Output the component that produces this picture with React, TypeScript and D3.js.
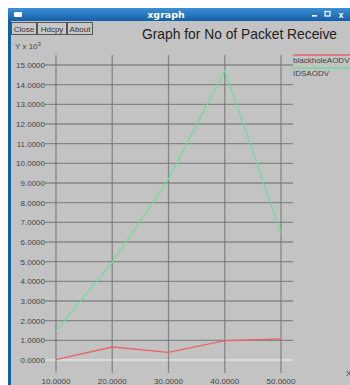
import React from "react";
import * as d3 from "d3";

const xValues = [10, 20, 30, 40, 50];
const blackholeAODV = [0.02, 0.66, 0.39, 0.98, 1.07];
const idsAODV = [1.47, 4.98, 9.2, 14.72, 6.45];
const yTicks = d3.range(0, 16, 1);
const xTicks = [10, 20, 30, 40, 50];
const seriesNames = ["blackholeAODV", "IDSAODV"];
const seriesColors = ["#e8646a", "#6fdc9c"];

const W = 350;
const H = 385;

export default function App() {
  const x = d3.scaleLinear().domain([10, 50]).range([56, 281]);
  const y = d3.scaleLinear().domain([0, 15]).range([360, 65]);
  const line = d3
    .line<number>()
    .x((_, i) => x(xValues[i]))
    .y((d) => y(d));
  const series = [blackholeAODV, idsAODV];
  const font = "'Liberation Sans', Arial, sans-serif";
  const fmt = (v: number) => v.toFixed(4);

  return (
    <svg
      width={W}
      height={H}
      style={{ position: "absolute", left: 0, top: 0 }}
      fontFamily={font}
    >
      <defs>
        <linearGradient id="titlebar" x1="0" y1="0" x2="0" y2="1">
          <stop offset="0" stopColor="#3d8fd6" />
          <stop offset="1" stopColor="#135fa8" />
        </linearGradient>
      </defs>
      <rect x={0} y={0} width={W} height={H} fill="#ffffff" />
      {/* window frame */}
      <rect x={8} y={8} width={W - 8} height={H - 8} fill="#14609f" />
      <rect x={8} y={8} width={W - 8} height={13} fill="url(#titlebar)" />
      <rect x={11} y={21} width={W - 11} height={H - 21} fill="#c3c3c3" />
      <rect x={14} y={12} width={8} height={5} fill="#ffffff" rx={1} />
      <text
        x={166}
        y={18}
        fill="#ffffff"
        fontSize={9.5}
        fontWeight="bold"
        textAnchor="middle"
        fontFamily="'DejaVu Sans', sans-serif"
      >
        xgraph
      </text>
      <rect x={312} y={15} width={5} height={1.6} fill="#ffffff" />
      <rect x={325} y={11.5} width={5} height={4.5} fill="none" stroke="#ffffff" strokeWidth={1.2} />
      <text x={341} y={18} fill="#ffffff" fontSize={9} fontWeight="bold" textAnchor="middle">
        x
      </text>

      {/* buttons */}
      {[
        { label: "Close", x0: 11, w: 25 },
        { label: "Hdcpy", x0: 37, w: 29 },
        { label: "About", x0: 67, w: 25 },
      ].map((b) => (
        <g key={b.label}>
          <rect
            x={b.x0 + 0.5}
            y={22.5}
            width={b.w}
            height={12}
            fill="#c8c8c8"
            stroke="#555"
            strokeWidth={1}
          />
          <text x={b.x0 + 0.5 + b.w / 2} y={32} fontSize={8} fill="#333" textAnchor="middle">
            {b.label}
          </text>
        </g>
      ))}

      <text x={142} y={39} fontSize={14.5} fill="#222" textLength={195} lengthAdjust="spacingAndGlyphs">
        Graph for No of Packet Receive
      </text>
      <text x={15} y={49} fontSize={8} fill="#444">
        Y x 10
        <tspan dy={-3} fontSize={6}>
          3
        </tspan>
      </text>

      {/* grid */}
      {yTicks.map((t) => (
        <g key={"y" + t}>
          <line
            x1={45}
            x2={293}
            y1={y(t)}
            y2={y(t)}
            stroke={t === 0 ? "#e4e4e4" : "#7a7a7a"}
            strokeWidth={1.3}
            strokeOpacity={t === 0 ? 1 : 0.85}
          />
          <text x={45} y={y(t) + 3} fontSize={8} fill="#444" textAnchor="end">
            {fmt(t)}
          </text>
        </g>
      ))}
      {xTicks.map((t) => (
        <g key={"x" + t}>
          <line
            x1={x(t)}
            x2={x(t)}
            y1={55}
            y2={373}
            stroke="#7a7a7a"
            strokeWidth={1.3}
            strokeOpacity={0.85}
          />
          <text x={x(t)} y={384} fontSize={8} fill="#444" textAnchor="middle">
            {fmt(t)}
          </text>
        </g>
      ))}
      <text x={346} y={376} fontSize={8} fill="#444">
        X
      </text>

      {/* series */}
      {series.map((s, i) => (
        <path
          key={seriesNames[i]}
          d={line(s) ?? ""}
          fill="none"
          stroke={seriesColors[i]}
          strokeWidth={1.3}
        />
      ))}

      {/* legend */}
      {seriesNames.map((n, i) => (
        <g key={"lg" + n}>
          <line x1={293} x2={350} y1={55 + i * 13} y2={55 + i * 13} stroke={seriesColors[i]} strokeWidth={1.3} />
          <text x={293} y={63 + i * 13} fontSize={8} fill="#444">
            {n}
          </text>
        </g>
      ))}
    </svg>
  );
}
